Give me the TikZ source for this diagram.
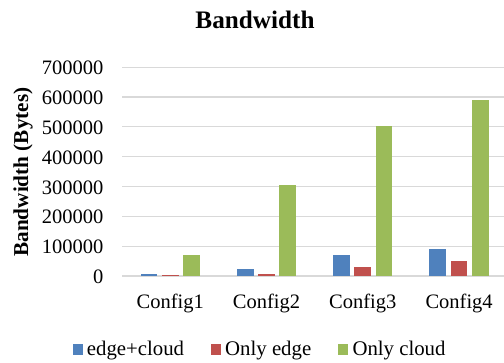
\documentclass[tikz,border=0pt]{standalone}
\usepackage{fontspec}
\setmainfont{Liberation Serif}
\definecolor{serA}{HTML}{4F81BD}
\definecolor{serB}{HTML}{C0504D}
\definecolor{serC}{HTML}{9BBB59}
\definecolor{gridcol}{HTML}{D9D9D9}
\begin{document}
\begin{tikzpicture}[x=1bp,y=-1bp,
  grid/.style={draw=gridcol,line width=1.2bp},
  ticklab/.style={anchor=east,inner sep=0pt,font=\fontsize{20.5bp}{24bp}\selectfont},
  catlab/.style={anchor=base,inner sep=0pt,font=\fontsize{20.5bp}{24bp}\selectfont},
  leglab/.style={anchor=base west,inner sep=0pt,font=\fontsize{20.8bp}{24bp}\selectfont},
  legkey/.style={minimum size=10.5bp,inner sep=0pt,anchor=south west}]
\useasboundingbox (0,0) rectangle (504,362);
\def\unit{29.83}
% horizontal grid lines, one per 100000 bytes
\foreach \k in {0,...,7}
  \draw[grid] (122,{276-\k*\unit}) -- (504,{276-\k*\unit});
% value axis labels
\foreach \k/\lab in {0/0,1/100000,2/200000,3/300000,4/400000,5/500000,6/600000,7/700000}
  \node[ticklab] (tick\k) at (103.5,{276-\k*\unit+0.8}) {\lab};
% bars: edge+cloud, only edge, only cloud (in units of 100000 bytes)
\foreach \i/\a/\b/\c in {0/0.057/0.033/0.694,1/0.245/0.067/3.06,2/0.70/0.29/5.04,3/0.895/0.50/5.90}{
  \pgfmathsetmacro\cx{170.2+96.3*\i}
  \fill[serA] ({\cx-21.3-8.35},276) rectangle ({\cx-21.3+8.35},{276-\a*\unit});
  \fill[serB] ({\cx-8.35},276) rectangle ({\cx+8.35},{276-\b*\unit});
  \fill[serC] ({\cx+21.3-8.35},276) rectangle ({\cx+21.3+8.35},{276-\c*\unit});
}
% category labels
\foreach \i in {1,...,4}
  \node[catlab] (cat\i) at ({170.2+96.3*(\i-1)},308.3) {Config\i};
% titles
\node[anchor=base,inner sep=0pt,font=\fontsize{25.2bp}{28bp}\selectfont\bfseries] (title) at (255,28.5) {Bandwidth};
\node[rotate=90,inner sep=0pt,font=\fontsize{21.2bp}{24bp}\selectfont\bfseries] (ytitle) at (23,172) {Bandwidth (Bytes)};
% legend
\node[legkey,fill=serA] (keyA) at (72.3,355) {};
\node[leglab] (legA) at (86.7,355.7) {edge+cloud};
\node[legkey,fill=serB] (keyB) at (210.5,355) {};
\node[leglab] (legB) at (225,355.7) {Only edge};
\node[legkey,fill=serC] (keyC) at (337.3,355) {};
\node[leglab] (legC) at (352.3,355.7) {Only cloud};
\end{tikzpicture}
\end{document}
